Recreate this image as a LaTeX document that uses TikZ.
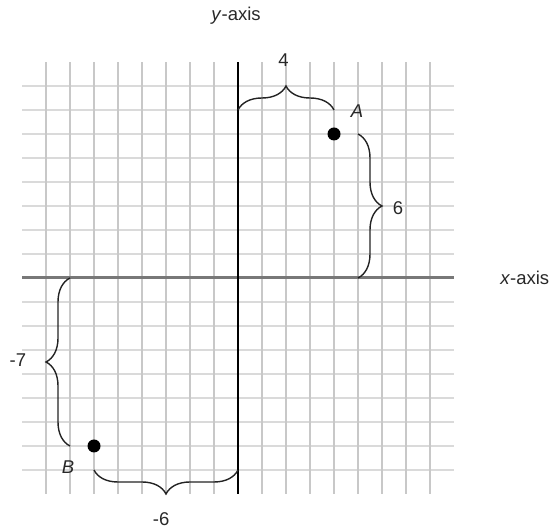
\documentclass[tikz,border=0pt]{standalone}
\usepackage{fontspec}
\setmainfont{Liberation Sans}
\usetikzlibrary{decorations.pathreplacing}
\definecolor{vgridc}{RGB}{200,200,200}
\definecolor{hgridc}{RGB}{218,218,218}
\definecolor{xaxisc}{RGB}{120,120,120}
\definecolor{bracec}{RGB}{35,35,35}
\definecolor{textc}{RGB}{40,40,40}
\begin{document}
\begin{tikzpicture}[x=24pt,y=24pt,
  vgrid/.style={line width=1.6pt,draw=vgridc},
  hgrid/.style={line width=2.6pt,draw=hgridc},
  xaxisline/.style={line width=3pt,draw=xaxisc},
  yaxisline/.style={line width=1.5pt,draw=black},
  bracket/.style={draw=bracec,line width=1.4pt,decorate,decoration={brace,amplitude=24pt}},
  lbl/.style={font=\fontsize{18.5}{20}\selectfont,text=textc,inner sep=0pt},
  pt/.style={circle,fill=black,inner sep=0pt,minimum size=13pt}]
\useasboundingbox (-9.917,-10.542) rectangle (13.208,11.583);
% grid
\foreach \j in {-8,...,-1,1,2,...,8} \draw[hgrid] (-9,\j) -- (9,\j);
\foreach \i in {-8,...,-1,1,2,...,8} \draw[vgrid] (\i,-9) -- (\i,9);
% axes
\draw[xaxisline] (-9,0) -- (9,0);
\draw[yaxisline] (0,-9) -- (0,9);
% axis labels
\node[lbl] (ylab) at (-0.08,10.92) {\textit{y}-axis};
\node[lbl] (xlab) at (11.95,0.02) {\textit{x}-axis};
% points
\node[pt] (A) at (4,6) {};
\node[pt] (B) at (-6,-7) {};
\node[lbl] (Alab) at (4.96,6.96) {\textit{A}};
\node[lbl] (Blab) at (-7.08,-7.88) {\textit{B}};
% brace end points
\coordinate (t1) at (0,7);
\coordinate (t2) at (4,7);
\coordinate (r1) at (5,6);
\coordinate (r2) at (5,0);
\coordinate (l1) at (-7,-7);
\coordinate (l2) at (-7,0);
\coordinate (b1) at (0,-8);
\coordinate (b2) at (-6,-8);
% braces
\draw[bracket] (t1) -- (t2);
\draw[bracket] (r1) -- (r2);
\draw[bracket] (l1) -- (l2);
\draw[bracket] (b1) -- (b2);
% brace labels
\node[lbl] (n4) at (1.9,9.08) {4};
\node[lbl] (n6) at (6.67,2.92) {6};
\node[lbl] (nm7) at (-9.17,-3.42) {-7};
\node[lbl] (nm6) at (-3.2,-10.04) {-6};
\end{tikzpicture}
\end{document}
